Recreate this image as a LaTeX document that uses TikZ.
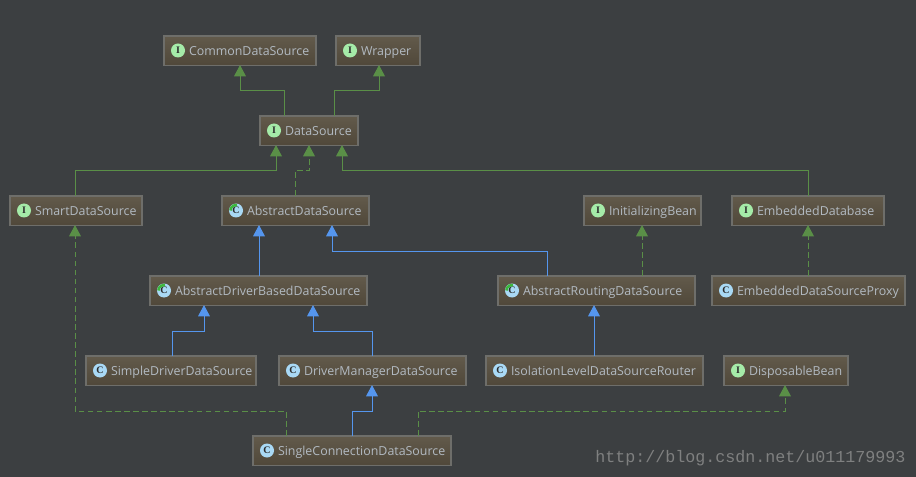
\documentclass[tikz,border=0pt]{standalone}
\usepackage{fontspec}
\setmainfont{Open Sans}
\newfontfamily\wmfont{Liberation Mono}
\newfontfamily\icofont{Liberation Serif}[Scale=1]
\usetikzlibrary{arrows.meta}
\definecolor{bgc}{HTML}{3C3F41}
\definecolor{boxtop}{HTML}{625A4B}
\definecolor{boxbot}{HTML}{50483A}
\definecolor{boxln}{HTML}{6E6E6A}
\definecolor{txtc}{HTML}{B2BAC2}
\definecolor{grn}{HTML}{5A8F47}
\definecolor{blu}{HTML}{5596EE}
\definecolor{icoI}{HTML}{A5EBA8}
\definecolor{icoC}{HTML}{A9D9F5}
\definecolor{icoD}{HTML}{2B2B2B}
\definecolor{arcG}{HTML}{3DB83D}
\definecolor{wmc}{HTML}{7F8080}
\tikzset{
  umlbox/.style={draw=boxln,line width=0.8pt,top color=boxtop,bottom color=boxbot,
    inner xsep=0pt,inner ysep=0pt,outer sep=0pt,anchor=north west,text=txtc,
    text height=9.9pt,text depth=2.1pt,
    minimum height=21.8pt,font=\fontsize{9.3pt}{12pt}\selectfont},
  icon/.style={circle,inner sep=0pt,minimum size=10.5pt,outer sep=0pt,text=icoD,
    font=\icofont\bfseries\fontsize{7.5pt}{8pt}\selectfont},
  iconI/.style={icon,fill=icoI},
  iconC/.style={icon,fill=icoC},
  iconA/.style={icon,fill=icoC},
  rel/.style={line width=0.75pt,line join=miter},
  inh/.style={rel},
  gline/.style={inh,draw=grn,-{Triangle[length=8.4pt,width=8.8pt,fill=grn]}},
  bline/.style={inh,draw=blu,-{Triangle[length=8.4pt,width=8.8pt,fill=blu]}},
  dashline/.style={inh,draw=grn,dash pattern=on 4.2pt off 2.6pt,-{Triangle[length=8.4pt,width=8.8pt,fill=grn,sep=0pt]}},
  watermark/.style={text=wmc,font=\wmfont\fontsize{12.5pt}{14pt}\selectfont,inner sep=0pt,anchor=base west},
}
% name, x1, x2, y1, icon style, text
\newcommand{\umlnode}[6]{%
  \pgfmathsetlengthmacro{\boxw}{(#3-#2)*0.75pt}%
  \node[umlbox] (#1) at (#2,#4) {\makebox[\boxw][l]{\hspace{18.75pt}#6}};
  \node[icon#5] (#1icon) at (#2+14,#4+14.5) {\ifx#5A C\else #5\fi};
}
\begin{document}
\begin{tikzpicture}[x=0.75pt,y=-0.75pt]
\fill[bgc] (0,0) rectangle (916,477);
\useasboundingbox (0,0) rectangle (916,477);

\umlnode{cds}{164}{316}{36}{I}{CommonDataSource}
\umlnode{wrap}{336}{420}{36}{I}{Wrapper}
\umlnode{ds}{260}{358}{116}{I}{DataSource}
\umlnode{sds}{10}{142}{196}{I}{SmartDataSource}
\umlnode{ads}{222}{369}{196}{A}{AbstractDataSource}
\umlnode{ib}{584}{701}{196}{I}{InitializingBean}
\umlnode{ed}{732}{884}{196}{I}{EmbeddedDatabase}
\umlnode{adb}{150}{367}{276}{A}{AbstractDriverBasedDataSource}
\umlnode{ar}{498}{695}{276}{A}{AbstractRoutingDataSource}
\umlnode{edp}{712}{905}{276}{C}{EmbeddedDataSourceProxy}
\umlnode{sd}{86}{256}{356}{C}{SimpleDriverDataSource}
\umlnode{dm}{279}{466}{356}{C}{DriverManagerDataSource}
\umlnode{il}{486}{703}{356}{C}{IsolationLevelDataSourceRouter}
\umlnode{db}{724}{848}{356}{I}{DisposableBean}
\umlnode{sc}{253}{451}{436}{C}{SingleConnectionDataSource}

% green sector on abstract-class icons
\foreach \n in {ads,adb,ar}{
  \draw[arcG,line width=1.9pt] ([xshift=-4.2pt]\n icon.center) arc[start angle=180,end angle=80,radius=4.2pt];
}

\draw[gline] (ds.north -| 284,0) -- (284,91) -- (240,91) -- (cds.south -| 240,0);
\draw[gline] (ds.north -| 334,0) -- (334,91) -- (379,91) -- (wrap.south -| 379,0);
\draw[gline] (sds.north -| 75,0) -- (75,171) -- (276,171) -- (ds.south -| 276,0);
\draw[dashline] (ads.north -| 295,0) -- (295,171) -- (309,171) -- (ds.south -| 309,0);
\draw[gline] (ed.north -| 808,0) -- (808,171) -- (342,171) -- (ds.south -| 342,0);
\draw[bline] (adb.north -| 259,0) -- (ads.south -| 259,0);
\draw[bline] (ar.north -| 547,0) -- (547,251) -- (332,251) -- (ads.south -| 332,0);
\draw[dashline] (ar.north -| 642,0) -- (ib.south -| 642,0);
\draw[dashline] (edp.north -| 808,0) -- (ed.south -| 808,0);
\draw[bline] (sd.north -| 172,0) -- (172,331) -- (204,331) -- (adb.south -| 204,0);
\draw[bline] (dm.north -| 372,0) -- (372,331) -- (313,331) -- (adb.south -| 313,0);
\draw[bline] (il.north -| 594,0) -- (ar.south -| 594,0);
\draw[bline] (sc.north -| 352,0) -- (352,411) -- (372,411) -- (dm.south -| 372,0);
\draw[dashline] (sc.north -| 418,0) -- (418,411) -- (785,411) -- (db.south -| 785,0);
\draw[dashline] (sc.north -| 286,0) -- (286,411) -- (75,411) -- (sds.south -| 75,0);

\node[watermark] (wm) at (595,462) {http://blog.csdn.net/u011179993};
\end{tikzpicture}
\end{document}
